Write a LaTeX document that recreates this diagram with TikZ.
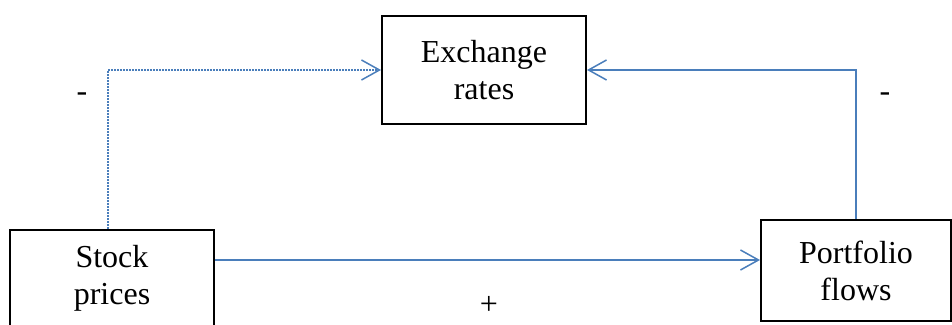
\documentclass[tikz,border=0pt]{standalone}
\usepackage{fontspec}
\setmainfont{Liberation Serif}
\usetikzlibrary{arrows.meta,positioning,calc}
\definecolor{linkblue}{HTML}{4A7EBB}
\tikzset{
  varbox/.style={draw, line width=1pt, align=center, inner sep=0pt},
  link/.style={draw=linkblue, line width=0.75pt, -{Straight Barb[length=9pt,width=10pt,line width=0.75pt]}},
  dotlink/.style={link, dash pattern=on 0.75pt off 0.75pt}
}

\begin{document}
\begin{tikzpicture}[x=0.5pt, y=0.5pt, every node/.style={font=\fontsize{16}{18.5}\selectfont}]
  \useasboundingbox (0,0) rectangle (952,325);
  \node[varbox, minimum width=102pt, minimum height=54pt] (Exch) at (484,255) {Exchange\\rates};
  \node[varbox, minimum width=102pt, minimum height=48pt] (Stock) at (112,47) {Stock\\prices};
  \node[varbox, minimum width=95pt, minimum height=50.5pt] (Port) at (856,54.5) {Portfolio\\flows};
  % links between the variables
  \draw[dotlink] ([xshift=-2pt]Stock.north) |- (Exch.west);
  \draw[link] (Port.north) |- (Exch.east);
  \draw[link] ([yshift=9pt]Stock.east) -- ([yshift=9pt]Stock.east -| Port.west);
  % signs
  \node (SignL) at (82,228) {-};
  \node (SignR) at (885,228) {-};
  \node (SignP) at (489,20) {+};
\end{tikzpicture}
\end{document}
